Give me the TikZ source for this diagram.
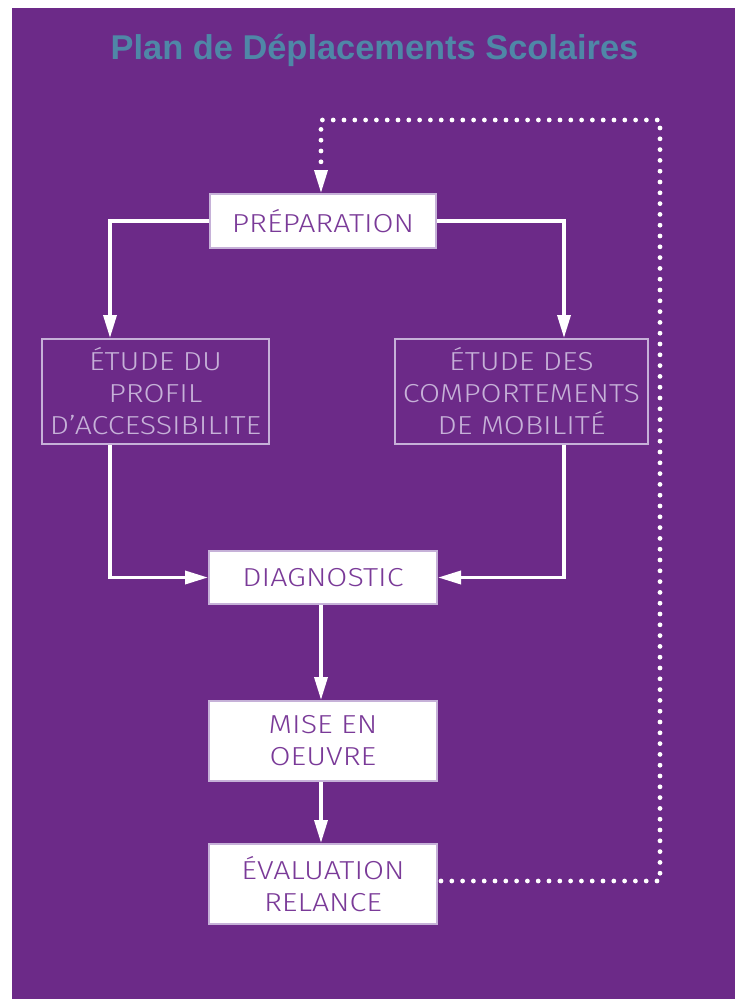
\documentclass[tikz,border=0pt]{standalone}
\usepackage{fontspec}
\setmainfont{Liberation Sans}
\newfontfamily\boxfont{Fira Sans Light}[FakeStretch=1.17]
\usetikzlibrary{arrows.meta}
\definecolor{bgpurple}{HTML}{6C2A88}
\definecolor{lav}{HTML}{C6B1D8}
\definecolor{txtpurple}{HTML}{7A3A98}
\definecolor{titleblue}{HTML}{4F87A7}
\begin{document}
\begin{tikzpicture}[x=1pt,y=-1pt,
  boxbase/.style={draw=lav, line width=2pt, inner sep=0pt, align=center,
    font=\boxfont\fontsize{26}{32}\selectfont},
  whitebox/.style={boxbase, fill=white, text=txtpurple},
  lavbox/.style={boxbase, fill=bgpurple, text=lav},
  arr/.style={draw=white, line width=3.5pt, -{Triangle[length=23pt,width=13pt]}},
  dotline/.style={draw=white, line width=4.8pt, line cap=round, dash pattern=on 0pt off 10.8pt},
  titlestyle/.style={font=\bfseries\fontsize{34.4}{40}\selectfont, text=titleblue, inner sep=0pt}
]
\useasboundingbox (0,0) rectangle (735,999);
\fill[white] (0,0) rectangle (735,999);
\fill[bgpurple] (12,8) rectangle (735,999);

\node[titlestyle, anchor=base] (title) at (374.5,59) {Plan de Déplacements Scolaires};

\node[whitebox, minimum width=226, minimum height=54] (prep) at (323,221) {PRÉPARATION};
\node[lavbox, minimum width=227, minimum height=105] (etul) at (155.5,391.5) {ÉTUDE DU\\PROFIL\\D’ACCESSIBILITE};
\node[lavbox, minimum width=253, minimum height=105] (etur) at (521.5,391.5) {ÉTUDE DES\\COMPORTEMENTS\\DE MOBILITÉ};
\node[whitebox, minimum width=228, minimum height=53] (diag) at (323,577.5) {DIAGNOSTIC};
\node[whitebox, minimum width=228, minimum height=80] (mise) at (323,741) {MISE EN\\OEUVRE};
\node[whitebox, minimum width=228, minimum height=80] (eval) at (323,884) {ÉVALUATION\\RELANCE};

\draw[arr] (prep.west) -| ([xshift=-45.5pt]etul.north);
\draw[arr] (prep.east) -| ([xshift=42.5pt]etur.north);
\draw[arr] ([xshift=-45.5pt]etul.south) |- (diag.west);
\draw[arr] ([xshift=42.5pt]etur.south) |- (diag.east);
\draw[arr] ([xshift=-2pt]diag.south) -- ([xshift=-2pt]mise.north);
\draw[arr] ([xshift=-2pt]mise.south) -- ([xshift=-2pt]eval.north);

\coordinate (d1) at (660,881);
\coordinate (d2) at (660,120);
\coordinate (d3) at (321,120);
\coordinate (d4) at (321,170);
\draw[dotline] ([xshift=3pt,yshift=3pt]eval.east) -- (d1) -- (d2) -- (d3) -- (d4);
\draw[arr] (d4) -- ([xshift=-2pt]prep.north);
\end{tikzpicture}
\end{document}
